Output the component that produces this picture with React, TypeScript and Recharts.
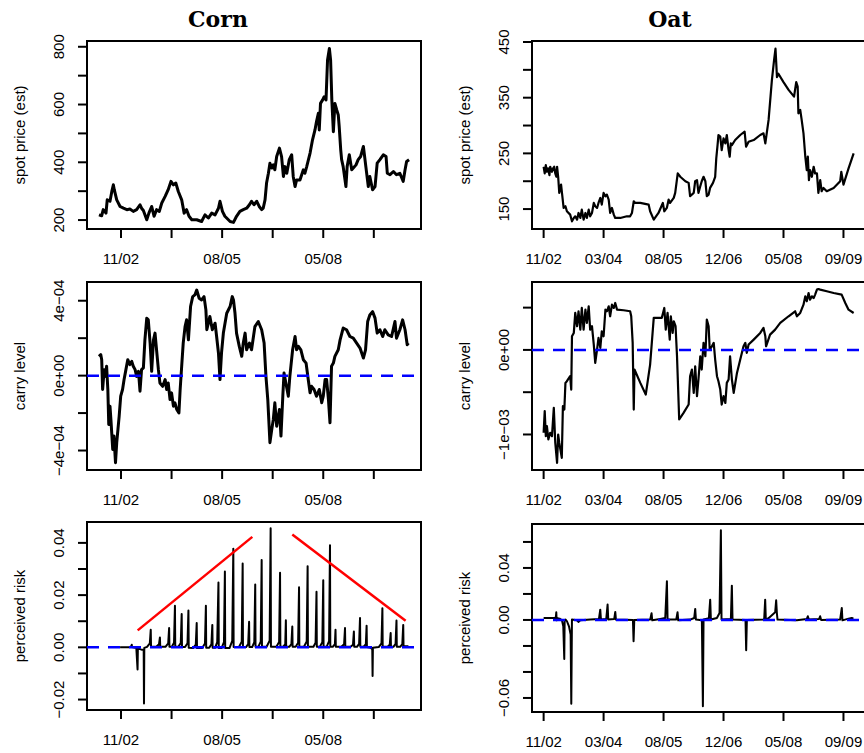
import React from 'react';
import { LineChart, Line, XAxis, YAxis, ReferenceLine, ReferenceArea } from 'recharts';

// x values are months since Jan 2000 (34 = Nov 2002, 67 = Aug 2005, 100 = May 2008)
const tickMonths = [34, 50.5, 67, 83.5, 100, 116.5];
const cornTickLabels = ['11/02', '', '08/05', '', '05/08', ''];
const oatTickLabels = ['11/02', '03/04', '08/05', '12/06', '05/08', '09/09'];

// Corn spot price (est)
const cornSpot: [number, number][] = [
  [26.8,218],[27.7,215],[28.2,236],[29.1,224],[29.5,270],[30.4,265],[31.0,299],[31.5,322],[31.8,305],[32.6,270],
  [33.7,247],[34.8,241],[35.9,236],[36.9,238],[38.0,230],[39.1,236],[40.2,253],[40.7,241],[41.3,233],[42.4,201],
  [43.1,224],[44.0,247],[44.8,213],[45.6,236],[46.5,230],[47.3,259],[48.4,282],[49.4,305],[50.3,334],[51.1,322],
  [51.9,328],[52.7,299],[53.8,270],[54.6,224],[55.4,236],[56.2,213],[57.1,201],[58.7,201],[60.3,195],[61.4,218],
  [62.5,207],[63.6,224],[64.7,218],[65.8,241],[66.3,265],[67.1,230],[67.9,213],[69.6,195],[70.7,192],[71.7,213],
  [72.8,230],[73.9,236],[75.0,241],[75.9,253],[76.6,265],[77.4,253],[78.3,265],[79.1,247],[79.9,236],[80.4,241],
  [81.0,270],[81.5,328],[82.1,362],[82.6,397],[83.2,380],[83.7,391],[84.2,374],[84.8,420],[85.7,449],[86.4,420],
  [87.0,351],[87.5,385],[88.1,362],[88.9,409],[89.7,426],[90.2,351],[90.8,316],[91.3,339],[92.4,339],[93.5,374],
  [94.0,362],[94.6,385],[95.7,432],[96.5,478],[97.3,512],[97.8,541],[98.4,570],[98.7,512],[99.1,604],[99.8,616],
  [100.3,627],[100.9,616],[101.4,754],[102.0,794],[102.4,754],[102.8,616],[103.3,506],[103.8,604],[104.4,581],[104.9,564],
  [105.2,524],[105.7,443],[106.0,409],[106.5,385],[107.4,316],[107.8,385],[108.5,426],[109.3,374],[109.8,380],[110.7,391],
  [111.4,409],[112.2,420],[113.1,455],[113.9,385],[114.7,316],[115.2,351],[116.1,305],[116.9,316],[117.6,397],[118.5,409],
  [119.6,426],[120.5,420],[120.9,362],[121.8,357],[122.9,368],[123.9,357],[125.0,362],[126.1,334],[126.7,374],[127.2,403],
  [128.0,409],
];

// Corn carry level, in units of 1e-4
const cornCarry: [number, number][] = [
  [26.8,1.03],[27.4,1.12],[27.7,0.85],[28.0,-0.74],[28.5,0.32],[28.9,-0.04],[29.3,0.50],[29.7,-0.74],[30.0,-2.61],[30.4,-1.63],
  [30.7,-2.34],[31.3,-3.94],[31.7,-3.23],[32.2,-4.65],[32.6,-3.58],[33.0,-2.87],[33.4,-2.16],[33.9,-1.10],[34.5,-0.74],[35.0,-0.21],
  [35.6,0.32],[36.2,0.85],[36.9,0.59],[37.5,0.76],[38.0,0.50],[38.6,0.32],[39.1,-0.04],[39.7,0.23],[40.2,-0.83],[40.7,0.32],
  [41.3,0.41],[41.8,1.91],[42.4,3.07],[42.9,2.98],[43.5,1.74],[44.0,0.23],[44.6,1.91],[45.1,2.27],[45.6,1.38],[46.2,0.32],
  [46.7,-0.39],[47.6,-0.57],[48.4,-0.21],[48.9,-0.74],[49.4,-0.39],[50.0,-1.28],[50.5,-0.92],[51.1,-1.63],[51.6,-1.45],[52.2,-1.81],
  [52.9,-1.99],[53.3,-0.74],[53.8,0.50],[54.3,1.74],[54.9,2.62],[55.4,2.98],[56.0,1.91],[56.7,3.69],[57.4,4.22],[58.1,4.31],
  [58.7,4.57],[59.5,4.13],[60.3,4.04],[61.1,4.22],[61.7,3.51],[62.0,2.45],[62.5,2.80],[63.0,3.16],[63.8,2.45],[64.7,2.80],
  [65.2,2.09],[65.8,1.21],[66.3,-0.21],[66.8,1.21],[67.4,2.27],[68.5,3.33],[69.6,3.69],[70.3,4.22],[70.7,4.04],[71.2,3.33],
  [71.7,2.27],[72.6,1.56],[73.4,1.03],[73.9,1.74],[74.5,2.27],[75.0,1.38],[75.9,1.74],[76.6,1.38],[77.7,2.62],[78.8,2.89],
  [79.9,2.45],[80.7,1.74],[81.3,-0.04],[81.9,-1.28],[82.6,-3.58],[83.2,-2.87],[83.7,-2.34],[84.2,-1.45],[84.8,-2.70],[85.7,-1.81],
  [86.2,-3.23],[86.8,-1.10],[87.2,0.14],[87.8,-0.39],[88.6,-1.10],[89.1,-0.04],[90.0,1.38],[90.8,2.09],[91.3,1.38],[91.9,1.56],
  [92.7,1.38],[93.5,0.85],[94.4,0.67],[95.1,-0.21],[95.7,-0.92],[96.2,-0.57],[97.0,-0.74],[97.8,-1.10],[98.7,-0.74],[99.5,-1.45],
  [100.0,-1.10],[100.6,-0.21],[101.1,-0.21],[101.7,-1.28],[102.2,-2.52],[102.7,0.50],[103.3,0.67],[103.8,1.03],[104.9,1.38],[105.5,1.91],
  [106.5,2.54],[107.6,2.45],[108.7,2.09],[109.8,2.00],[110.9,1.74],[112.0,1.47],[113.1,0.94],[113.8,1.38],[114.5,2.89],[115.2,3.24],
  [116.1,3.42],[116.9,3.07],[117.6,2.27],[118.5,2.45],[119.4,2.09],[120.1,2.45],[121.2,2.18],[122.3,2.09],[123.4,2.89],[123.9,2.00],
  [125.0,2.45],[125.9,2.98],[126.7,2.45],[127.4,1.65],[127.8,1.74],
];

// Corn perceived risk
const cornRisk: [number, number][] = [
  [33.7,0],[36.5,0],[37.3,0.0003],[37.5,0.0010],[37.6,0.0001],[39.0,-0.0003],[39.4,-0.0085],[39.5,-0.0004],[40.5,-0.0008],
  [41.4,-0.0010],[41.5,-0.0215],[41.6,-0.0002],
  [42.5,0.0002],[43.4,0.0015],[43.7,0.0067],[43.8,0.0002],
  [45.5,0.0002],[46.4,0.0012],[46.7,0.0038],[46.8,0.0002],
  [48.5,0.0002],[49.4,0.0015],[49.7,0.0074],[49.8,0.0002],
  [50.6,0.0002],[51.3,0.0018],[51.6,0.0159],[51.7,0.0002],
  [52.7,0.0002],[53.5,0.0016],[53.8,0.0128],[53.9,0.0001],
  [54.9,0.0001],[55.7,0.0016],[56.0,0.0141],[56.1,-0.0002],
  [57.5,-0.0003],[58.4,0.0010],[58.7,0.0093],[58.8,-0.0003],
  [60.5,-0.0003],[61.4,0.0015],[61.7,0.0159],[61.8,-0.0002],
  [62.8,-0.0002],[63.5,0.0012],[63.8,0.0086],[63.9,-0.0002],
  [64.7,-0.0002],[65.4,0.0020],[65.8,0.0248],[65.9,-0.0003],
  [66.8,-0.0003],[67.6,0.0020],[67.9,0.0290],[68.0,-0.0003],
  [69.4,-0.0003],[70.3,0.0025],[70.65,0.0378],[70.75,0.0001],
  [72.5,0.0001],[73.4,0.0022],[73.7,0.0321],[73.8,0.0001],
  [74.8,0.0001],[75.5,0.0012],[75.8,0.0098],[75.9,0.0001],
  [76.8,0.0001],[77.5,0.0020],[77.8,0.0241],[77.9,0.0002],
  [78.8,0.0002],[79.6,0.0022],[79.9,0.0334],[80.0,0.0002],
  [81.5,0.0002],[82.5,0.0025],[82.83,0.0456],[82.93,0.0002],
  [84.7,0.0002],[85.6,0.0020],[85.9,0.0286],[86.0,0.0002],
  [86.9,0.0002],[87.6,0.0012],[87.8,0.0104],[87.9,0.0002],
  [88.9,0.0002],[89.6,0.0012],[89.9,0.0080],[90.0,0.0002],
  [91.0,0.0002],[91.8,0.0018],[92.1,0.0230],[92.2,0.0002],
  [93.7,0.0002],[94.6,0.0022],[94.9,0.0311],[95.0,0.0002],
  [96.8,0.0002],[97.5,0.0018],[97.8,0.0213],[97.9,0.0002],
  [98.9,0.0002],[99.7,0.0020],[100.0,0.0257],[100.1,0.0002],
  [101.1,0.0002],[101.9,0.0024],[102.2,0.0391],[102.3,0.0002],
  [103.1,0.0002],[103.8,0.0012],[104.0,0.0067],[104.1,0.0002],
  [105.9,0.0002],[106.8,0.0012],[107.1,0.0074],[107.2,0.0002],
  [108.9,0.0002],[109.7,0.0010],[110.0,0.0061],[110.1,0.0002],
  [111.0,0.0002],[111.7,0.0013],[112.0,0.0112],[112.1,0.0002],
  [113.1,0.0002],[113.9,0.0012],[114.15,0.0083],[114.25,0.0001],
  [115.5,-0.0002],[116.0,-0.0008],[116.1,-0.0110],[116.2,-0.0002],
  [118.1,0.0001],[119.0,0.0015],[119.3,0.0150],[119.4,0.0002],
  [121.0,0.0002],[121.7,0.0010],[122.0,0.0055],[122.1,0.0002],
  [122.9,0.0002],[123.6,0.0013],[123.9,0.0103],[124.0,0.0002],
  [125.1,0.0002],[125.8,0.0012],[126.1,0.0086],[126.2,0.0004],[127.8,0.0004],
];

// Red trend segments on the corn risk panel [month, value]
const cornRiskTrendUp: [number, number][] = [[39.44, 0.0065], [76.85, 0.0423]];
const cornRiskTrendDown: [number, number][] = [[89.9, 0.0432], [126.88, 0.0102]];

// Oat spot price (est)
const oatSpot: [number, number][] = [
  [34.0,226],[34.3,214],[34.6,229],[34.9,217],[35.2,223],[35.6,211],[35.8,226],[36.3,217],[36.6,223],[36.9,226],
  [37.2,214],[37.5,208],[37.7,226],[38.0,208],[38.3,179],[38.8,194],[39.1,176],[39.5,152],[40.0,155],[40.4,146],
  [41.3,140],[41.8,128],[42.3,134],[42.7,137],[43.2,131],[43.6,143],[44.1,134],[44.5,149],[45.0,131],[45.5,143],
  [45.9,134],[46.4,149],[46.8,137],[47.3,143],[47.8,161],[48.2,155],[48.7,152],[49.1,161],[49.6,170],[50.0,158],
  [50.5,179],[51.0,173],[51.4,176],[51.9,167],[52.3,143],[52.8,152],[53.3,140],[53.7,134],[55.1,134],[56.9,137],
  [57.8,137],[58.3,143],[58.8,164],[59.2,161],[60.6,161],[62.9,158],[63.3,146],[64.3,131],[65.6,143],[66.8,161],
  [67.2,146],[67.9,152],[68.4,167],[68.8,161],[69.8,170],[70.2,179],[70.9,214],[71.6,208],[73.0,200],[73.9,197],
  [74.3,173],[75.3,179],[75.7,200],[76.2,202],[76.6,179],[77.1,191],[77.5,200],[78.0,208],[78.5,200],[78.9,173],
  [79.4,176],[79.8,188],[80.6,197],[81.2,208],[81.5,241],[81.9,268],[82.1,283],[82.6,280],[83.0,256],[83.5,277],
  [84.0,268],[84.4,283],[84.9,256],[85.2,244],[85.5,268],[85.8,265],[86.7,274],[88.1,283],[89.3,289],[89.7,262],
  [90.4,271],[91.8,274],[93.6,283],[94.5,286],[95.0,268],[95.9,310],[96.8,381],[97.4,417],[97.8,438],[98.2,387],
  [98.6,393],[100.0,378],[101.4,364],[102.9,352],[103.5,378],[103.9,370],[104.1,322],[104.6,328],[105.0,310],[105.5,286],
  [106.0,244],[106.4,220],[106.7,244],[107.0,202],[107.3,220],[107.8,208],[108.3,226],[108.7,214],[109.2,214],[109.6,179],
  [110.1,202],[110.5,182],[111.0,188],[111.9,182],[113.8,188],[115.6,200],[115.9,217],[116.5,194],[117.9,223],[119.3,250],
];

// Oat carry level, in units of 1e-4
const oatCarry: [number, number][] = [
  [34.0,-9.80],[34.3,-7.24],[34.6,-10.20],[34.9,-9.02],[35.3,-10.59],[35.8,-9.80],[36.3,-10.20],[36.8,-6.85],[37.2,-10.98],[37.7,-13.35],
  [38.0,-10.00],[38.3,-10.98],[39.0,-12.76],[39.3,-6.65],[39.7,-7.05],[40.0,-3.90],[40.4,-3.70],[41.3,-3.11],[41.6,-4.69],[41.8,1.61],
  [42.3,2.01],[42.7,4.37],[43.2,2.80],[43.6,4.57],[44.1,2.40],[44.5,4.96],[45.0,2.40],[45.5,4.76],[45.9,3.19],[46.4,5.16],
  [46.8,2.40],[47.3,2.80],[47.8,0.63],[48.2,-1.54],[48.7,0.04],[49.1,1.42],[49.6,0.24],[50.0,2.20],[50.5,1.61],[51.0,4.76],
  [51.4,4.57],[51.9,5.16],[52.3,3.98],[52.8,5.35],[53.3,4.96],[53.7,5.55],[54.2,4.76],[56.0,4.69],[57.8,4.57],[58.1,3.98],
  [58.5,0.83],[58.8,-7.05],[59.0,-2.32],[60.6,-3.90],[62.1,-5.28],[63.3,-1.73],[64.3,3.78],[66.5,3.78],[67.2,4.96],[67.6,2.40],
  [68.1,4.37],[68.7,1.22],[69.0,3.98],[69.5,2.01],[69.8,3.39],[70.3,2.80],[70.7,-0.75],[71.3,-8.23],[72.5,-7.44],[73.9,-6.46],
  [74.3,-3.11],[74.8,-2.32],[75.3,-5.08],[75.7,-1.93],[76.2,-5.47],[76.6,-3.50],[77.1,-0.75],[77.5,-2.32],[78.0,0.83],[78.5,-0.75],
  [78.9,3.58],[79.4,2.80],[79.7,0.04],[80.3,0.43],[80.8,0.83],[81.2,-1.14],[81.7,-3.11],[82.1,-3.70],[82.6,-4.69],[83.0,-6.46],
  [83.5,-5.47],[84.0,-6.26],[84.4,-3.90],[84.9,-3.50],[85.3,-0.75],[85.8,-3.50],[86.3,-5.08],[87.2,-2.72],[88.1,-1.14],[89.0,0.43],
  [89.5,0.83],[89.9,-0.35],[90.4,0.63],[91.8,1.22],[93.6,2.01],[94.5,2.60],[95.0,1.61],[95.2,0.43],[96.3,1.81],[97.7,2.40],
  [99.1,3.19],[101.4,3.98],[103.2,4.57],[103.7,3.98],[104.6,4.37],[105.5,5.35],[106.0,6.34],[106.4,5.75],[106.9,6.73],[107.3,5.94],
  [107.8,6.34],[108.3,6.14],[108.7,6.54],[109.2,7.13],[109.6,7.20],[110.1,7.13],[111.9,6.93],[113.8,6.73],[116.0,6.54],[117.0,5.55],
  [117.9,4.76],[119.3,4.37],
];

// Oat perceived risk
const oatRisk: [number, number][] = [
  [34.0,0.0015],[37.21,0.0015],[37.39,0.0028],[37.48,0.0059],[37.57,-0.0003],[37.85,0.0013],[38.4,0.0010],[39.04,-0.0003],
  [39.41,-0.0049],[39.68,-0.0300],[39.78,-0.0003],[40.05,0.0003],[40.42,-0.0010],[40.97,-0.0049],[41.43,-0.0113],[41.61,-0.0644],
  [41.79,0.0003],[43.17,-0.0003],[43.63,-0.0015],[44.08,-0.0003],[46.83,0.0003],[49.22,0.0008],[49.58,0.0079],[49.77,0.0003],
  [51.23,0.0008],[51.6,0.0118],[51.78,0.0003],[53.43,0.0008],[53.71,0.0062],[53.89,0.0003],[58.57,0],[58.75,-0.0164],[58.94,0],
  [63.33,0.0003],[63.7,0.0051],[63.88,-0.0003],[66.08,0.0008],[67.46,0.0015],[67.92,0.0297],[68.1,0.0003],[70.48,0.0003],
  [70.85,0.0059],[71.03,-0.0003],[74.33,0.0003],[75.43,0.0015],[75.71,0.0085],[75.89,0.0003],[77.54,-0.0003],[77.82,-0.0664],
  [78.0,0.0003],[79.47,0.0013],[79.83,0.0156],[80.02,0.0003],[81.67,0.0015],[82.4,0.0054],[82.77,0.0690],[82.95,0.0003],
  [85.52,0.0008],[85.79,0.0264],[85.97,0.0003],[89.55,0],[89.73,-0.0233],[89.92,0],[94.68,0.0003],[94.96,0.0156],[95.14,0.0003],
  [95.88,0.0013],[97.71,0.0059],[97.98,0.0151],[98.17,0.0054],[98.35,0.0003],[103.67,-0.0003],[106.42,0.0008],[106.69,0.0028],
  [106.97,0.0003],[109.81,0.0008],[110.08,0.0028],[110.36,0],[115.58,0.0003],[116.04,0.0092],[116.22,-0.0003],[117.88,0.0010],
  [118.79,0.0015],[119.25,0.0010],
];

// y-axis ticks and labels
const cornSpotTicks = [200, 300, 400, 500, 600, 700, 800];
const cornSpotLabels = ['200', '', '400', '', '600', '', '800'];
const cornCarryTicks = [-4, -2, 0, 2, 4];
const cornCarryLabels = ['\u22124e\u221204', '', '0e+00', '', '4e\u221204'];
const cornRiskTicks = [-0.02, -0.01, 0, 0.01, 0.02, 0.03, 0.04];
const cornRiskLabels = ['\u22120.02', '', '0.00', '', '0.02', '', '0.04'];
const oatSpotTicks = [150, 200, 250, 300, 350, 400, 450];
const oatSpotLabels = ['150', '', '250', '', '350', '', '450'];
const oatCarryTicks = [-10, -5, 0, 5];
const oatCarryLabels = ['\u22121e\u221203', '', '0e+00', ''];
const oatRiskTicks = [-0.06, -0.04, -0.02, 0, 0.02, 0.04, 0.06];
const oatRiskLabels = ['\u22120.06', '', '', '0.00', '', '0.04', ''];

const SANS = '"Liberation Sans", Arial, Helvetica, sans-serif';
const PW = 334;
const PH = 188;
const ML = 87;
const MT = 30;
const XH = 50;
const MR = 20;

type Seg = [number, number][];

type PanelProps = {
  data: [number, number][];
  left: number;
  top: number;
  xDomain: [number, number];
  xLabels: string[];
  yDomain: [number, number];
  yTicks: number[];
  yLabels: string[];
  yTitle: string;
  strokeWidth: number;
  zero?: boolean;
  segments?: Seg[];
};

function findIdx(arr: number[], v: number) {
  for (let i = 0; i < arr.length; i++) if (Math.abs(arr[i] - v) < 1e-9) return i;
  return -1;
}

function Panel(p: PanelProps) {
  const rows = p.data.map(([t, v]) => ({ t, v }));
  const W = ML + PW + MR;
  const H = MT + PH + XH;
  const yTick = (props: any) => {
    const { y, payload } = props;
    const i = findIdx(p.yTicks, payload.value);
    const lab = i >= 0 ? p.yLabels[i] : '';
    const x = ML - 23;
    return (
      <text x={x} y={y} transform={`rotate(-90 ${x} ${y})`} textAnchor="middle"
        fontFamily={SANS} fontSize={15} fill="#000">{lab}</text>
    );
  };
  const titleX = ML - 62.5;
  const titleY = MT + PH / 2;
  return (
    <div style={{ position: 'absolute', left: p.left - ML, top: p.top - MT }}>
      <LineChart width={W} height={H} data={rows} margin={{ top: MT, right: MR, bottom: 0, left: 0 }}>
        <XAxis dataKey="t" type="number" domain={p.xDomain} ticks={tickMonths} interval={0}
          allowDataOverflow height={XH} axisLine={false} tickSize={9} tickMargin={15}
          tickLine={{ stroke: '#000', strokeWidth: 2 }}
          tick={{ fill: '#000', fontSize: 15, fontFamily: SANS }}
          tickFormatter={(v: number) => { const i = findIdx(tickMonths, v); return i >= 0 ? p.xLabels[i] : ''; }} />
        <YAxis type="number" domain={p.yDomain} ticks={p.yTicks} interval={0} allowDataOverflow
          width={ML} axisLine={false} tickSize={9} tickLine={{ stroke: '#000', strokeWidth: 2 }}
          tick={yTick}
          label={{
            content: () => (
              <text x={titleX} y={titleY} transform={`rotate(-90 ${titleX} ${titleY})`} textAnchor="middle"
                fontFamily={SANS} fontSize={15} fill="#000">{p.yTitle}</text>
            ),
          }} />
        <ReferenceArea x1={p.xDomain[0]} x2={p.xDomain[1]} y1={p.yDomain[0]} y2={p.yDomain[1]}
          fill="none" fillOpacity={0} stroke="#000" strokeWidth={2} ifOverflow="visible" />
        <Line dataKey="v" type="linear" stroke="#000" strokeWidth={p.strokeWidth} dot={false}
          isAnimationActive={false} strokeLinejoin="round" />
        {p.zero && (
          <ReferenceLine y={0} stroke="#0000ff" strokeWidth={2.5} strokeDasharray="12 9" />
        )}
        {(p.segments || []).map((s, i) => (
          <ReferenceLine key={i} segment={[{ x: s[0][0], y: s[0][1] }, { x: s[1][0], y: s[1][1] }]}
            stroke="#ff0000" strokeWidth={2.5} ifOverflow="visible" />
        ))}
      </LineChart>
    </div>
  );
}

const cornX: [number, number] = [22.9, 131.9];
const oatX: [number, number] = [30.8, 122.7];

export default function App() {
  return (
    <div style={{ position: 'fixed', left: 0, top: 0, width: 864, height: 753, overflow: 'hidden', background: '#fff' }}>
      <svg width={864} height={40} style={{ position: 'absolute', left: 0, top: 0 }}>
        <text x={218} y={27} textAnchor="middle" fontFamily='"DejaVu Serif", serif' fontWeight="bold" fontSize={22} fill="#000">Corn</text>
        <text x={670} y={27} textAnchor="middle" fontFamily='"DejaVu Serif", serif' fontWeight="bold" fontSize={22} fill="#000">Oat</text>
      </svg>
      <Panel data={cornSpot} left={87} top={41} xDomain={cornX} xLabels={cornTickLabels}
        yDomain={[169, 820]} yTicks={cornSpotTicks} yLabels={cornSpotLabels} yTitle="spot price (est)" strokeWidth={3} />
      <Panel data={cornCarry} left={87} top={282} xDomain={cornX} xLabels={cornTickLabels}
        yDomain={[-5.04, 5.0]} yTicks={cornCarryTicks} yLabels={cornCarryLabels} yTitle="carry level" strokeWidth={3} zero />
      <Panel data={cornRisk} left={87} top={522} xDomain={cornX} xLabels={cornTickLabels}
        yDomain={[-0.024, 0.048]} yTicks={cornRiskTicks} yLabels={cornRiskLabels} yTitle="perceived risk" strokeWidth={2}
        zero segments={[cornRiskTrendUp, cornRiskTrendDown]} />
      <Panel data={oatSpot} left={532} top={41} xDomain={oatX} xLabels={oatTickLabels}
        yDomain={[114.2, 451.8]} yTicks={oatSpotTicks} yLabels={oatSpotLabels} yTitle="spot price (est)" strokeWidth={2.2} />
      <Panel data={oatCarry} left={532} top={282} xDomain={oatX} xLabels={oatTickLabels}
        yDomain={[-14.2, 8.03]} yTicks={oatCarryTicks} yLabels={oatCarryLabels} yTitle="carry level" strokeWidth={2.2} zero />
      <Panel data={oatRisk} left={532} top={524} xDomain={oatX} xLabels={oatTickLabels}
        yDomain={[-0.0708, 0.0738]} yTicks={oatRiskTicks} yLabels={oatRiskLabels} yTitle="perceived risk" strokeWidth={2} zero />
    </div>
  );
}
